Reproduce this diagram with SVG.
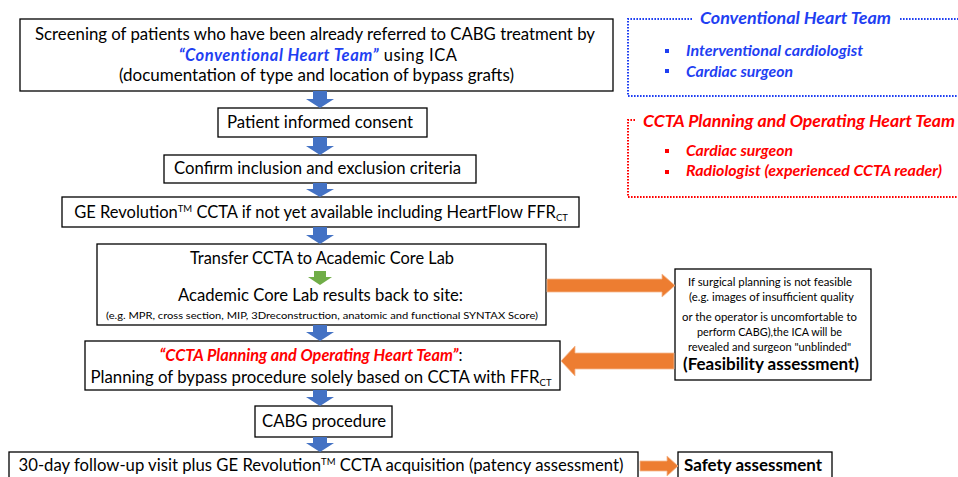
<svg xmlns="http://www.w3.org/2000/svg" width="958" height="477" viewBox="0 0 958 477">
<style>
text{font-family:Lato,"Open Sans","Liberation Sans",sans-serif;fill:#000;}
.box{fill:#fff;stroke:#000;stroke-width:1.3;}
.t16{font-size:16.3px;}
.mid{text-anchor:middle;}
.bi{font-weight:bold;font-style:italic;}
.blue{fill:#1f3ff2;}
.red{fill:#ff0000;}
.sm{font-size:11px;}
.sup{font-size:9.5px;}
.blueArrow{fill:#4472c4;}
.greenArrow{fill:#70ad47;}
.orangeArrow{fill:#ed7d31;stroke:#f5b98f;stroke-width:0.8;}
.dotBlue{fill:none;stroke:#1f3ff2;stroke-width:2;stroke-dasharray:1.6 1.4;}
.dotRed{fill:none;stroke:#ff0000;stroke-width:2;stroke-dasharray:1.6 1.4;}
</style>
<rect width="958" height="477" fill="#fff"/>

<g id="screening">
<rect class="box" x="20" y="19" width="593" height="72"/>
<text class="t16" x="35" y="40" textLength="560" lengthAdjust="spacingAndGlyphs">Screening of patients who have been already referred to CABG treatment by</text>
<text class="mid" x="318" y="61" font-size="16.5" letter-spacing="0.5"><tspan class="bi blue">“Conventional Heart Team”</tspan> using ICA</text>
<text class="t16" x="119" y="81" textLength="395" lengthAdjust="spacingAndGlyphs">(documentation of type and location of bypass grafts)</text>
</g>

<g id="consent">
<rect class="box" x="218" y="108" width="209" height="29"/>
<text class="t16" x="227" y="128" textLength="186" lengthAdjust="spacingAndGlyphs">Patient informed consent</text>
</g>

<g id="criteria">
<rect class="box" x="164" y="155" width="312" height="28"/>
<text class="t16" x="174" y="174" textLength="287" lengthAdjust="spacingAndGlyphs">Confirm inclusion and exclusion criteria</text>
</g>

<g id="ccta">
<rect class="box" x="62" y="197" width="517" height="30"/>
<text class="mid" x="321" y="218" font-size="16.5">GE Revolution<tspan class="sup" dy="-6">TM</tspan><tspan dy="6"> CCTA if not yet available including HeartFlow FFR</tspan><tspan class="sup" dy="3">CT</tspan></text>
</g>

<g id="corelab">
<rect class="box" x="97" y="244" width="449" height="81"/>
<text class="t16" x="190" y="264" textLength="264" lengthAdjust="spacingAndGlyphs">Transfer CCTA to Academic Core Lab</text>
<text x="178" y="301" font-size="17.5" textLength="285" lengthAdjust="spacingAndGlyphs">Academic Core Lab results back to site:</text>
<text x="106" y="319" font-size="9.5" textLength="432" lengthAdjust="spacingAndGlyphs">(e.g. MPR, cross section, MIP, 3Dreconstruction, anatomic and functional SYNTAX Score)</text>
</g>

<g id="planning">
<rect class="box" x="85" y="341" width="475" height="49"/>
<text class="mid" x="311" y="361" font-size="16.3"><tspan class="bi red">“CCTA Planning and Operating Heart Team”</tspan>:</text>
<text class="mid" x="321" y="383" font-size="16.8">Planning of bypass procedure solely based on CCTA with FFR<tspan class="sup" dy="3">CT</tspan></text>
</g>

<g id="cabg">
<rect class="box" x="255" y="406" width="137" height="31"/>
<text class="t16" x="262" y="427" textLength="124" lengthAdjust="spacingAndGlyphs">CABG procedure</text>
</g>

<g id="followup">
<rect class="box" x="9" y="452" width="629" height="30"/>
<text class="mid" x="321" y="471" font-size="16.7">30-day follow-up visit plus GE Revolution<tspan class="sup" dy="-6">TM</tspan><tspan dy="6"> CCTA acquisition (patency assessment)</tspan></text>
</g>

<g id="safety">
<rect class="box" x="678" y="452" width="154" height="30"/>
<text class="t16" x="684" y="471" font-weight="bold" textLength="138" lengthAdjust="spacingAndGlyphs">Safety assessment</text>
</g>

<g id="feasibility">
<rect class="box" x="675" y="269" width="196" height="111"/>
<text class="sm" x="688" y="286" textLength="164" lengthAdjust="spacingAndGlyphs">If surgical planning is not feasible</text>
<text class="sm" x="689" y="301" textLength="165" lengthAdjust="spacingAndGlyphs">(e.g. images of insufficient quality</text>
<text class="sm" x="682" y="321" textLength="175" lengthAdjust="spacingAndGlyphs">or the operator  is uncomfortable to</text>
<text class="sm" x="697" y="336" textLength="145" lengthAdjust="spacingAndGlyphs">perform CABG),the ICA will be</text>
<text class="sm" x="688" y="351" textLength="163" lengthAdjust="spacingAndGlyphs">revealed and surgeon "unblinded"</text>
<text x="683" y="370" font-size="17" font-weight="bold" textLength="176" lengthAdjust="spacingAndGlyphs">(Feasibility assessment)</text>
</g>

<g id="conventional-team">
<path class="dotBlue" d="M692,19 H628 V96 H960 M900,19 H960"/>
<text class="bi blue" x="700" y="24" font-size="17" textLength="191" lengthAdjust="spacingAndGlyphs">Conventional Heart Team</text>
<rect x="665" y="49" width="4" height="4" fill="#1f3ff2"/>
<rect x="665" y="69" width="4" height="4" fill="#1f3ff2"/>
<text class="bi blue" x="686" y="56" font-size="15" textLength="177" lengthAdjust="spacingAndGlyphs">Interventional cardiologist</text>
<text class="bi blue" x="686" y="77" font-size="15" textLength="107" lengthAdjust="spacingAndGlyphs">Cardiac surgeon</text>
</g>

<g id="ccta-team">
<path class="dotRed" d="M635,120 H628 V197 H960"/>
<text class="bi red" x="643" y="127" font-size="17" textLength="312" lengthAdjust="spacingAndGlyphs">CCTA Planning and Operating Heart Team</text>
<rect x="665" y="149" width="4" height="4" fill="#ff0000"/>
<rect x="665" y="170" width="4" height="4" fill="#ff0000"/>
<text class="bi red" x="686" y="156" font-size="15" textLength="107" lengthAdjust="spacingAndGlyphs">Cardiac surgeon</text>
<text class="bi red" x="686" y="176" font-size="15" textLength="256" lengthAdjust="spacingAndGlyphs">Radiologist (experienced CCTA reader)</text>
</g>

<g id="connectors">
<path class="blueArrow" d="M313,91 H327 V99 H334 L320,108 L306,99 H313 Z"/>
<path class="blueArrow" d="M313,137 H327 V146 H334 L320,155 L306,146 H313 Z"/>
<path class="blueArrow" d="M313,183 H327 V189 H334 L320,197 L306,189 H313 Z"/>
<path class="blueArrow" d="M313,227 H327 V235 H334 L320,244 L306,235 H313 Z"/>
<path class="greenArrow" d="M314,271 H326 V277 H332 L320,285 L308,277 H314 Z"/>
<path class="blueArrow" d="M313,325 H327 V332 H334 L320,341 L306,332 H313 Z"/>
<path class="blueArrow" d="M313,390 H327 V397 H334 L320,406 L306,397 H313 Z"/>
<path class="blueArrow" d="M313,437 H327 V443 H334 L320,452 L306,443 H313 Z"/>
<path class="orangeArrow" d="M547,279 H662 V274 L675,285.5 L662,297 V292 H547 Z"/>
<path class="orangeArrow" d="M674,353 H575 V346 L561,361 L575,376 V369 H674 Z"/>
<path class="orangeArrow" d="M640,461 H667 V456 L678,466 L667,476 V471 H640 Z"/>
</g>
</svg>
